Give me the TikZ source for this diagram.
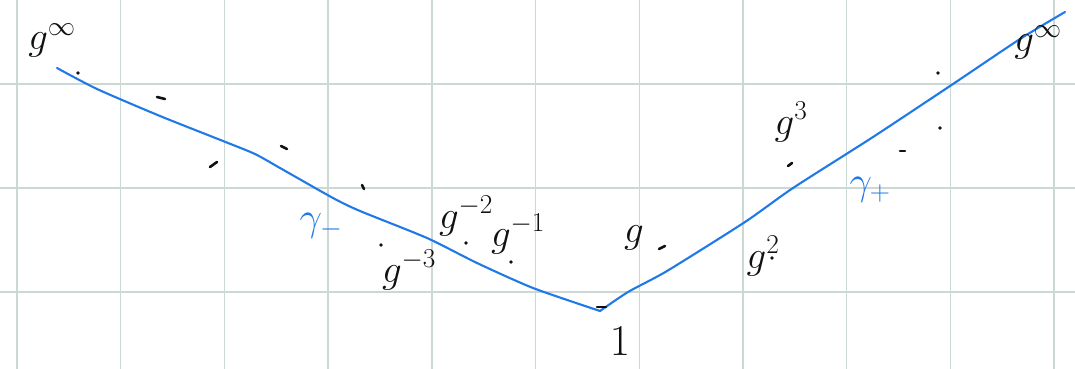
\RequirePackage{fix-cm}
\documentclass[tikz,border=0pt]{standalone}
\usetikzlibrary{positioning}
\definecolor{clrGrid}{HTML}{CCD8D4}
\definecolor{clrPath}{HTML}{1F7AE8}
\definecolor{clrInk}{HTML}{111111}

\begin{document}
\begin{tikzpicture}[
  x=1pt, y=-1pt,
  gridline/.style = {
    draw=clrGrid,
    line width=1.4pt
  },
  geodesic/.style = {
    draw=clrPath,
    line width=2.1pt,
    line cap=round,
    line join=round
  },
  tick/.style = {
    draw=clrInk,
    line width=2.6pt,
    line cap=round
  },
  elem/.style = {
    font=\fontsize{39}{42}\selectfont,
    text=clrInk,
    inner sep=0pt
  },
  ray/.style = {
    font=\fontsize{40}{44}\selectfont,
    text=clrPath,
    inner sep=0pt
  }
]

% ── paper ────────────────────────────────────────────────────────────────────
\fill[white] (0,0) rectangle (1075,369);
\useasboundingbox (0,0) rectangle (1075,369);

\foreach \i in {0,...,10}
  \draw[gridline] ({17+103.7*\i},0) -- ({17+103.7*\i},369);
\foreach \j in {0,1,2}
  \draw[gridline] (0,{84+104*\j}) -- (1075,{84+104*\j});

% ── the two rays ─────────────────────────────────────────────────────────────
\draw[geodesic] plot[smooth, tension=0.4] coordinates {
  (57,68) (97,89) (160,116) (223,141) (255,154) (280,168) (333,198)
  (360,211) (427,238) (477,263) (533,288) (600,311)};
\draw[geodesic] plot[smooth, tension=0.4] coordinates {
  (600,311) (628,292) (667,271) (745,222) (793,188) (873,137)
  (953,84) (1020,39) (1065,12)};

% ── marks ────────────────────────────────────────────────────────────────────
\foreach \ax/\ay/\bx/\by in {157/97/165/99, 210/167/217/162, 281/146/287/149,
                             362/185/364/189, 659/249/665/246, 597/307/606/307,
                             900/151/905/151, 788/166/792/163}
  \draw[tick] (\ax,\ay) -- (\bx,\by);
\foreach \px/\py in {78/73, 381/245, 466/243, 511/262, 938/73, 940/128, 772/258}
  \fill[clrInk] (\px,\py) circle (1.8);

% ── labels ───────────────────────────────────────────────────────────────────
\node[elem] (gInfLeft)  at (52,40)   {$g^{\infty}$};
\node[elem] (gMinThree) at (409,270) {$g^{-3}$};
\node[elem] (gMinTwo)   at (466,216) {$g^{-2}$};
\node[elem] (gMinOne)   at (518,234) {$g^{-1}$};
\node[elem] (gOne)      at (634,238) {$g$};
\node[elem, font=\fontsize{44}{48}\selectfont] (unit) at (620,341) {$1$};
\node[elem] (gTwo)      at (763,256) {$g^{2}$};
\node[elem] (gThree)    at (791,122) {$g^{3}$};
\node[elem] (gInfRight) at (1038,42) {$g^{\infty}$};

\node[ray] (rayMinus) at (321,226) {$\gamma_-$};
\node[ray] (rayPlus)  at (870,190) {$\gamma_+$};

\end{tikzpicture}
\end{document}
